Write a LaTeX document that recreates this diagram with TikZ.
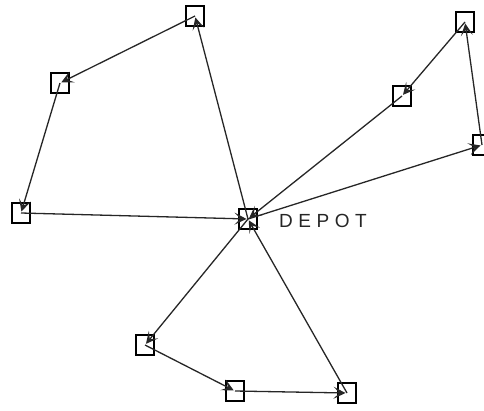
\documentclass[tikz,border=0pt]{standalone}
\usepackage{fontspec}
\setmainfont{Liberation Sans}
\usetikzlibrary{arrows.meta}
\tikzset{
  stop/.style={draw=black,fill=none,line width=1.4pt,minimum width=18pt,minimum height=20pt,inner sep=0pt,outer sep=0pt},
  route/.style={draw=black!85,line width=1.3pt,-{Stealth[length=12pt,width=12pt,inset=6pt]},shorten >=1.5pt}
}
\begin{document}
\begin{tikzpicture}[x=1pt,y=-1pt]
\useasboundingbox (0,0) rectangle (484,410);
\clip (0,0) rectangle (484,410);
\node[stop] (a) at (195,16) {};
\node[stop] (b) at (60,83) {};
\node[stop] (c) at (21,213) {};
\node[stop] (d) at (248,219) {};
\node[stop] (e) at (402,96) {};
\node[stop] (f) at (465,22) {};
\node[stop] (g) at (482,145) {};
\node[stop] (h) at (145,345) {};
\node[stop] (i) at (235,391) {};
\node[stop] (j) at (347,393) {};
\node[anchor=west,inner sep=0pt,text=black!85,font=\fontsize{19}{19}\selectfont\addfontfeature{LetterSpace=29}] (lbl) at (279,220.5) {DEPOT};
\draw[route] (d.center) -- (a.center);
\draw[route] (a.center) -- (b.center);
\draw[route] (b.center) -- (c.center);
\draw[route] (c.center) -- (d.center);
\draw[route] (d.center) -- (g.center);
\draw[route] (g.center) -- (f.center);
\draw[route] (f.center) -- (e.center);
\draw[route] (e.center) -- (d.center);
\draw[route] (d.center) -- (h.center);
\draw[route] (h.center) -- (i.center);
\draw[route] (i.center) -- (j.center);
\draw[route] (j.center) -- (d.center);
\end{tikzpicture}
\end{document}
